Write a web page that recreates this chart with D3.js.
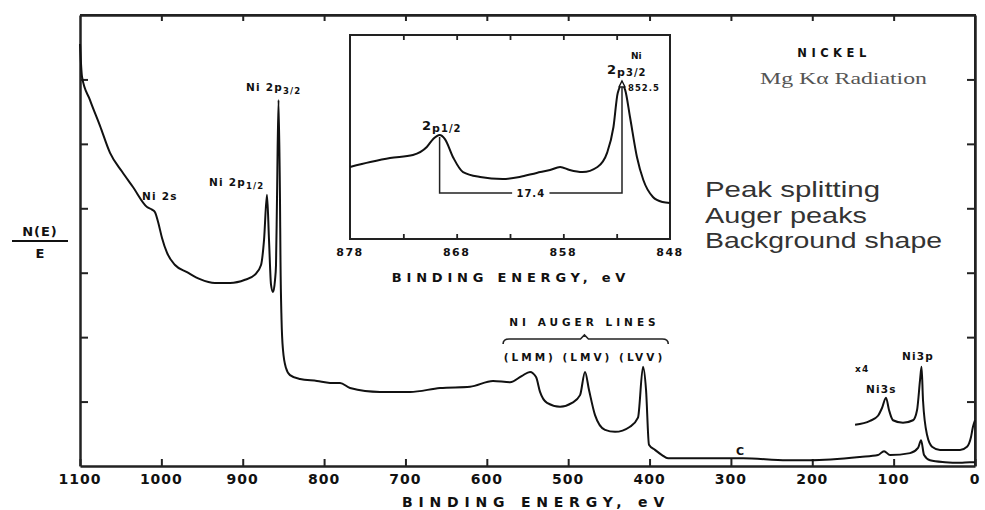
<!DOCTYPE html>
<html>
<head>
<meta charset="utf-8">
<script src="https://cdn.jsdelivr.net/npm/d3@7"></script>
<style>
  body { margin: 0; background: #fff; }
  text { font-family: "DejaVu Sans", sans-serif; fill: #111; }
</style>
</head>
<body>
<div id="chart"></div>
<script>
// survey spectrum (binding energy eV, N(E)/E in tick units)
const surveyEnergy = [1100, 1097.5, 1087.7, 1075.4, 1063.1, 1048.4, 1034.9, 1017.6, 1011.5, 1007.8, 1004.1, 999.2, 993.1, 983.2, 968.5, 952.5, 934.1, 915.6, 897.2, 884.9, 877.5, 873.8, 870.2, 867.7, 865.2, 862.8, 860.3, 859.1, 857.9, 856.0, 854.2, 853.6, 852.3, 850.5, 846.8, 841.9, 829.6, 808.7, 792.7, 780.4, 768.1, 731.3, 694.4, 657.5, 620.6, 592.4, 571.5, 556.7, 546.9, 539.5, 534.6, 526.0, 510.0, 495.3, 485.4, 479.3, 474.4, 467.0, 454.7, 442.4, 424.0, 414.2, 408.0, 404.3, 400.7, 393.3, 384.7, 377.3, 337.9, 285.1, 231.0, 202.8, 141.3, 119.2, 111.8, 104.4, 79.8, 70.0, 66.3, 62.6, 55.3, 36.8, 18.4, 6.1, 0];
const surveyCounts = [6.55, 6.04, 5.68, 5.28, 4.86, 4.57, 4.33, 4.02, 3.98, 3.94, 3.79, 3.54, 3.31, 3.12, 3.01, 2.90, 2.84, 2.84, 2.89, 2.97, 3.12, 3.51, 4.21, 3.51, 2.81, 2.70, 2.89, 3.12, 4.13, 5.68, 4.13, 3.20, 2.27, 1.80, 1.52, 1.41, 1.35, 1.32, 1.29, 1.29, 1.21, 1.15, 1.15, 1.21, 1.23, 1.32, 1.30, 1.40, 1.46, 1.38, 1.15, 0.98, 0.92, 0.98, 1.10, 1.46, 1.18, 0.79, 0.56, 0.53, 0.61, 0.75, 1.54, 1.18, 0.33, 0.25, 0.17, 0.12, 0.12, 0.12, 0.09, 0.09, 0.14, 0.17, 0.23, 0.17, 0.20, 0.28, 0.40, 0.17, 0.09, 0.06, 0.05, 0.06, 0.06];

// low energy region drawn x4
const x4Energy = [147.4, 129.0, 119.2, 114.3, 109.4, 105.7, 100.8, 88.5, 76.2, 71.2, 67.5, 65.7, 63.9, 58.9, 52.8, 43.0, 18.4, 9.8, 4.9, 2.5, 0];
const x4Counts = [0.64, 0.70, 0.78, 0.90, 1.06, 0.87, 0.71, 0.67, 0.71, 0.87, 1.34, 1.54, 1.02, 0.48, 0.30, 0.25, 0.25, 0.30, 0.45, 0.61, 0.71];

// Ni 2p detail (inset)
const insetEnergy = [878.0, 876.1, 874.25, 872.1, 870.8, 870.2, 869.6, 869.1, 868.3, 867.4, 865.8, 863.7, 862.1, 860.5, 859.25, 858.3, 857.4, 856.2, 854.8, 853.9, 853.3, 852.9, 852.5, 852.2, 851.75, 851.1, 850.5, 849.6, 848.7, 848.0];
const insetCounts = [0.353, 0.377, 0.397, 0.412, 0.451, 0.49, 0.510, 0.49, 0.397, 0.328, 0.304, 0.294, 0.304, 0.324, 0.338, 0.353, 0.338, 0.328, 0.353, 0.422, 0.549, 0.716, 0.755, 0.730, 0.598, 0.402, 0.289, 0.206, 0.181, 0.176];

const mainTicks = [1100, 1000, 900, 800, 700, 600, 500, 400, 300, 200, 100, 0];
const yTicks = [1, 2, 3, 4, 5, 6];
const insetTicks = [873, 868, 863, 858, 853];
const insetLabels = [878, 868, 858, 848];
const notes = ["Peak splitting", "Auger peaks", "Background shape"];
const noteWidths = [175, 162, 237];
const peak12 = 869.6, peak32 = 852.5, splitLevel = 0.225;

const W = 985, H = 510;

const svg = d3.select("#chart").append("svg")
    .attr("width", W).attr("height", H);

const x = d3.scaleLinear().domain([1100, 0]).range([80, 975]);
const y = d3.scaleLinear().domain([0, 7]).range([466, 15]);

const line = d3.line().x(d => x(d[0])).y(d => y(d[1])).curve(d3.curveMonotoneX);

// frame
svg.append("path")
    .attr("d", `M${x(1100)},${y(7)}H${x(0)}V${y(0)}`)
    .attr("fill", "none").attr("stroke", "#222").attr("stroke-width", 2);

const gBottom = svg.append("g").attr("transform", `translate(0,${y(0)})`)
    .call(d3.axisTop(x).tickValues(mainTicks).tickSizeInner(7).tickSizeOuter(0).tickFormat(""));
const gTop = svg.append("g").attr("transform", `translate(0,${y(7)})`)
    .call(d3.axisBottom(x).tickValues(mainTicks.slice(1, -1)).tickSizeInner(6).tickSizeOuter(0).tickFormat(""));
const gLeft = svg.append("g").attr("transform", `translate(${x(1100)},0)`)
    .call(d3.axisRight(y).tickValues(yTicks).tickSizeInner(8).tickSizeOuter(0).tickFormat(""));
const gRight = svg.append("g").attr("transform", `translate(${x(0)},0)`)
    .call(d3.axisLeft(y).tickValues(yTicks).tickSizeInner(8).tickSizeOuter(0).tickFormat(""));
[gBottom, gTop, gLeft, gRight].forEach(g => {
    g.select(".domain").attr("stroke", "#222").attr("stroke-width", 2.5);
    g.selectAll(".tick line").attr("stroke", "#222").attr("stroke-width", 2);
});

// bottom tick labels
svg.append("g").selectAll("text").data(mainTicks).join("text")
    .attr("x", d => x(d)).attr("y", 484)
    .attr("text-anchor", "middle")
    .style("font-size", "14px").style("font-weight", "bold").style("letter-spacing", "1px")
    .text(d => d);

svg.append("text")
    .attr("x", 536).attr("y", 507)
    .attr("text-anchor", "middle")
    .style("font-size", "14px").style("font-weight", "bold").style("letter-spacing", "5.8px")
    .text("BINDING ENERGY, eV");

// y label N(E)/E
svg.append("text").attr("x", 40).attr("y", 236).attr("text-anchor", "middle")
    .style("font-size", "13px").style("font-weight", "bold").style("letter-spacing", "1px").text("N(E)");
svg.append("line").attr("x1", 12).attr("x2", 68).attr("y1", 241).attr("y2", 241)
    .attr("stroke", "#111").attr("stroke-width", 2);
svg.append("text").attr("x", 40).attr("y", 258).attr("text-anchor", "middle")
    .style("font-size", "13px").style("font-weight", "bold").text("E");

// spectra
svg.append("path")
    .datum(d3.zip(surveyEnergy, surveyCounts))
    .attr("d", line)
    .attr("fill", "none").attr("stroke", "#111").attr("stroke-width", 2).attr("stroke-linejoin", "round");

svg.append("path")
    .datum(d3.zip(x4Energy, x4Counts))
    .attr("d", line)
    .attr("fill", "none").attr("stroke", "#111").attr("stroke-width", 2).attr("stroke-linejoin", "round");

// small peak labels
function smallLabel(px, py, main, sub) {
    const t = svg.append("text").attr("x", px).attr("y", py)
        .style("font-size", "10.5px").style("font-weight", "bold").style("letter-spacing", "1.2px");
    t.append("tspan").text(main);
    if (sub) t.append("tspan").attr("dy", 3).style("font-size", "8.5px").text(sub);
    return t;
}
smallLabel(142, 200, "Ni 2s");
smallLabel(209, 186, "Ni 2p", "1/2");
smallLabel(246, 91, "Ni 2p", "3/2");
smallLabel(736, 455, "C").style("font-size", "11px");
smallLabel(855, 372, "x4").style("font-size", "9px");
smallLabel(866, 393, "Ni3s");
smallLabel(902, 360, "Ni3p");

// auger annotation
svg.append("text").attr("x", x(480)).attr("y", 326).attr("text-anchor", "middle")
    .style("font-size", "10.5px").style("font-weight", "bold").style("letter-spacing", "4px")
    .text("NI AUGER LINES");
const bx0 = x(580), bx1 = x(377), bxc = x(480), by = 339;
svg.append("path")
    .attr("d", `M${bx0},${by + 5}Q${bx0},${by} ${bx0 + 6},${by}H${bxc - 4}L${bxc},${by - 4}L${bxc + 4},${by}H${bx1 - 6}Q${bx1},${by} ${bx1},${by + 5}`)
    .attr("fill", "none").attr("stroke", "#222").attr("stroke-width", 1.6);
svg.append("text").attr("x", x(480)).attr("y", 361).attr("text-anchor", "middle")
    .style("font-size", "10.5px").style("font-weight", "bold").style("letter-spacing", "3px")
    .text("(LMM) (LMV) (LVV)");

// title block
svg.append("text").attr("x", 834).attr("y", 57).attr("text-anchor", "middle")
    .style("font-size", "11.5px").style("font-weight", "bold").style("letter-spacing", "4.5px")
    .text("NICKEL");
svg.append("text").attr("x", 760).attr("y", 84)
    .attr("textLength", 167).attr("lengthAdjust", "spacingAndGlyphs")
    .style("font-family", "'Liberation Serif', serif").style("font-size", "16px").style("fill", "#555")
    .text("Mg Kα Radiation");

notes.forEach((s, i) => {
    svg.append("text").attr("x", 705).attr("y", 197 + i * 25.5)
        .attr("textLength", noteWidths[i]).attr("lengthAdjust", "spacingAndGlyphs")
        .style("font-family", "'Liberation Sans', Arial, sans-serif")
        .style("font-size", "22px").style("fill", "#333")
        .text(s);
});

// ---- inset ----
const ix = d3.scaleLinear().domain([878, 848]).range([350, 670]);
const iy = d3.scaleLinear().domain([0, 1]).range([239, 35]);
const ig = svg.append("g");

ig.append("rect").attr("x", 350).attr("y", 35).attr("width", 320).attr("height", 204)
    .attr("fill", "#fff").attr("stroke", "#222").attr("stroke-width", 2);

const ib = ig.append("g").attr("transform", `translate(0,${iy(0)})`)
    .call(d3.axisTop(ix).tickValues(insetTicks).tickSizeInner(5).tickSizeOuter(0).tickFormat(""));
const it = ig.append("g").attr("transform", `translate(0,${iy(1)})`)
    .call(d3.axisBottom(ix).tickValues(insetTicks).tickSizeInner(5).tickSizeOuter(0).tickFormat(""));
[ib, it].forEach(g => {
    g.select(".domain").remove();
    g.selectAll(".tick line").attr("stroke", "#222").attr("stroke-width", 1.8);
});

ig.selectAll(".ilab").data(insetLabels).join("text")
    .attr("class", "ilab")
    .attr("x", d => ix(d)).attr("y", 256).attr("text-anchor", "middle")
    .style("font-size", "11px").style("font-weight", "bold").style("letter-spacing", "1.5px")
    .text(d => d);
ig.append("text").attr("x", 511).attr("y", 282).attr("text-anchor", "middle")
    .style("font-size", "13px").style("font-weight", "bold").style("letter-spacing", "4.8px")
    .text("BINDING ENERGY, eV");

const iline = d3.line().x(d => ix(d[0])).y(d => iy(d[1])).curve(d3.curveMonotoneX);
ig.append("path")
    .datum(d3.zip(insetEnergy, insetCounts))
    .attr("d", iline)
    .attr("fill", "none").attr("stroke", "#111").attr("stroke-width", 2);

// splitting marker
const lvl = iy(splitLevel);
ig.append("path")
    .attr("d", `M${ix(peak12)},${iy(0.50)}V${lvl}H${ix(862.8)}M${ix(859.3)},${lvl}H${ix(peak32)}V${iy(0.77)}`)
    .attr("fill", "none").attr("stroke", "#222").attr("stroke-width", 1.5);
ig.append("text").attr("x", ix(861.05)).attr("y", lvl + 4).attr("text-anchor", "middle")
    .style("font-size", "10px").style("font-weight", "bold").style("letter-spacing", "1px").text("17.4");
ig.append("path")
    .attr("d", `M${ix(peak32)},${iy(0.775)}l-3,6h6z`)
    .attr("fill", "#fff").attr("stroke", "#111").attr("stroke-width", 1.3);

ig.append("text").attr("x", 631).attr("y", 59).style("font-size", "9px").style("font-weight", "bold").text("Ni");
const t32 = ig.append("text").attr("x", 607).attr("y", 74).style("font-weight", "bold").style("letter-spacing", "1px");
t32.append("tspan").style("font-size", "13px").text("2");
t32.append("tspan").style("font-size", "11px").attr("dy", 2).text("p");
t32.append("tspan").style("font-size", "10px").text("3/2");
ig.append("text").attr("x", 628).attr("y", 91).style("font-size", "8.5px").style("font-weight", "bold")
    .style("letter-spacing", "1px").text("852.5");
const t12 = ig.append("text").attr("x", 422).attr("y", 130).style("font-weight", "bold").style("letter-spacing", "1px");
t12.append("tspan").style("font-size", "13px").text("2");
t12.append("tspan").style("font-size", "11px").attr("dy", 2).text("p");
t12.append("tspan").style("font-size", "10px").text("1/2");
</script>
</body>
</html>
